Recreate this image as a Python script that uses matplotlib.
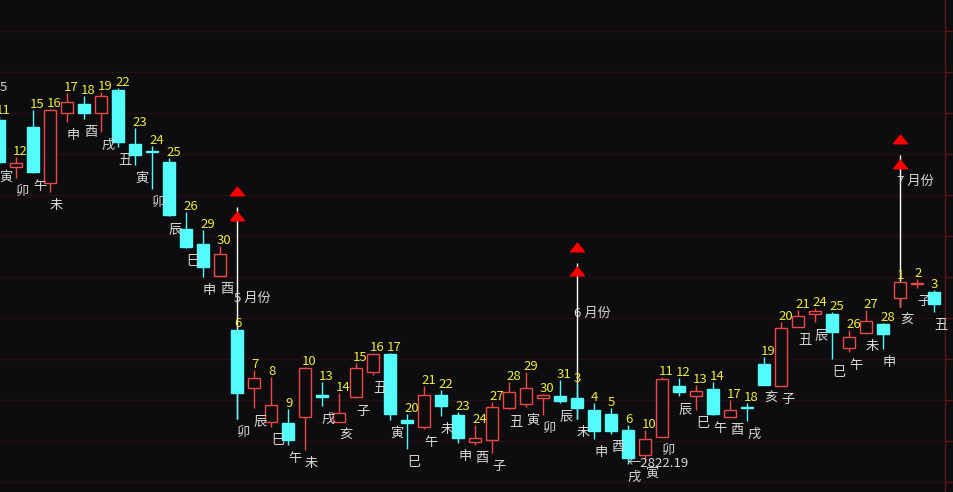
import numpy as np
import matplotlib
matplotlib.use("Agg")
import matplotlib.pyplot as plt
from matplotlib.path import Path

plt.rcParams['font.family'] = ['Noto Sans CJK SC', 'DejaVu Sans']

# day numbers and day branches (Apr 11 2019 .. Jul 3 2019)
days = [11, 12, 15, 16, 17, 18, 19, 22, 23, 24, 25, 26, 29, 30,
        6, 7, 8, 9, 10, 13, 14, 15, 16, 17, 20, 21, 22, 23, 24, 27, 28, 29, 30, 31,
        3, 4, 5, 6, 10, 11, 12, 13, 14, 17, 18, 19, 20, 21, 24, 25, 26, 27, 28,
        1, 2, 3]
branches = ['寅', '卯', '午', '未', '申', '酉', '戌', '丑', '寅', '卯', '辰', '巳', '申', '酉',
            '卯', '辰', '巳', '午', '未', '戌', '亥', '子', '丑', '寅', '巳', '午', '未', '申', '酉',
            '子', '丑', '寅', '卯', '辰',
            '未', '申', '酉', '戌', '寅', '卯', '辰', '巳', '午', '酉', '戌', '亥', '子', '丑',
            '辰', '巳', '午', '未', '申',
            '亥', '子', '丑']

opens = [3241.6, 3184.2, 3233.0, 3164.7, 3250.1, 3261.1, 3250.1, 3278.1, 3212.3, 3203.8,
         3190.3, 3108.6, 3090.3, 3051.3,
         2985.5, 2914.7, 2873.3, 2872.1, 2879.4, 2906.2, 2873.3, 2903.8, 2934.3, 2956.2,
         2875.7, 2867.2, 2906.2, 2881.8, 2848.9, 2851.3, 2890.3, 2895.2, 2902.5, 2905.0,
         2902.5, 2887.9, 2883.0, 2863.5, 2833.0, 2855.0, 2917.2, 2905.0, 2913.5, 2879.4,
         2891.6, 2944.0, 2917.2, 2989.1, 3005.0, 3005.0, 2963.5, 2981.8, 2992.8,
         3024.5, 3041.6, 3031.8]
highs = [3246.4, 3196.4, 3253.8, 3255.0, 3274.5, 3270.8, 3275.7, 3280.6, 3231.8, 3209.9,
         3195.2, 3129.4, 3107.4, 3087.9,
         2986.7, 2936.7, 2928.2, 2889.1, 2940.3, 2922.1, 2908.6, 2945.2, 2957.4, 2957.4,
         2883.0, 2917.2, 2912.3, 2885.5, 2869.6, 2897.7, 2922.1, 2934.3, 2907.4, 2924.5,
         2919.6, 2896.4, 2890.3, 2869.6, 2863.5, 2928.2, 2926.9, 2918.4, 2922.1, 2900.1,
         2896.4, 2952.5, 2995.2, 3009.9, 3012.3, 3007.4, 2985.5, 3009.9, 2994.0,
         3045.2, 3047.7, 3034.2]
lows = [3187.9, 3170.8, 3176.9, 3153.8, 3239.1, 3242.8, 3226.9, 3208.6, 3186.7, 3157.4,
        3124.5, 3085.5, 3050.1, 3051.3,
        2876.9, 2890.3, 2867.2, 2845.2, 2839.1, 2892.8, 2873.3, 2902.5, 2930.6, 2875.7,
        2840.3, 2864.7, 2880.6, 2847.7, 2845.2, 2835.5, 2889.1, 2891.6, 2881.8, 2896.4,
        2876.9, 2852.5, 2858.6, 2822.19, 2826.9, 2855.0, 2905.0, 2887.9, 2881.8, 2879.4,
        2874.5, 2918.4, 2917.2, 2989.1, 2995.2, 2950.1, 2958.6, 2981.8, 2962.3,
        3013.5, 3036.7, 3007.4]
closes = [3190.3, 3189.1, 3178.1, 3253.8, 3263.5, 3250.1, 3270.8, 3214.7, 3198.9, 3202.5,
          3125.7, 3086.7, 3062.3, 3078.3,
          2908.6, 2926.9, 2894.0, 2851.3, 2939.1, 2903.8, 2884.2, 2939.1, 2956.2, 2883.0,
          2872.1, 2906.2, 2892.8, 2853.8, 2853.8, 2891.6, 2909.9, 2914.7, 2906.2, 2898.9,
          2890.3, 2862.3, 2862.3, 2829.4, 2852.5, 2925.7, 2909.9, 2911.1, 2883.0, 2887.9,
          2890.3, 2918.4, 2987.9, 3002.5, 3008.6, 2983.0, 2976.9, 2996.4, 2980.6,
          3044.0, 3042.8, 3017.2]

# month markers: candle index, triangle levels, line top, label level
month_idx = [14, 34, 53]
month_text = ['5 月份', '6 月份', '7 月份']
month_tri_hi = [3155.0, 3086.7, 3218.4]
month_tri_lo = [3124.5, 3057.4, 3187.9]
month_line_top = [3135.5, 3067.2, 3198.9]
month_label_y = [3024.5, 3006.2, 3167.2]

low_idx = 37
low_text = '←2822.19'

grid_levels = np.arange(2800, 3351, 50)

BG = '#0d0d0f'
CYAN = '#54fcfc'
RED = '#f04848'
YELLOW = '#ecec3c'
WHITE = '#d8d8d8'

fig = plt.figure(figsize=(9.54, 4.92), dpi=100, facecolor=BG)
ax = fig.add_axes([0, 0, 1, 1], facecolor=BG)

x = np.arange(len(days))
o = np.array(opens)
h = np.array(highs)
l = np.array(lows)
c = np.array(closes)
up = c >= o

for g in grid_levels:
    ax.axhline(g, color='#221014', lw=1, zorder=0)

# right price-axis border with ticks
xr = 946 / 17
ax.axvline(xr, color='#5c1616', lw=1, zorder=1)
ax.hlines(grid_levels, xr, xr + 0.42, color='#5c1616', lw=1, zorder=1)

# month lines and triangles
tri = Path([(-1, -0.62), (1, -0.62), (0, 0.62), (-1, -0.62)])
for k, mi in enumerate(month_idx):
    ax.vlines(mi, l[mi], month_line_top[k], color='white', lw=1, zorder=2)
    ax.plot([mi, mi], [month_tri_hi[k], month_tri_lo[k]], ls='none', marker=tri,
            ms=10, color='#ff0000', zorder=5)
    ax.annotate(month_text[k], (mi, month_label_y[k]), xytext=(-3, 0),
                textcoords='offset pixels', ha='left', va='center',
                color=WHITE, fontsize=9.5, zorder=6)

# wicks
top = np.maximum(o, c)
bot = np.minimum(o, c)
for i in x:
    col = RED if up[i] else CYAN
    ax.vlines(i, top[i], h[i], color=col, lw=1, zorder=3)
    ax.vlines(i, l[i], bot[i], color=col, lw=1, zorder=3)

# bodies
hgt = np.maximum(top - bot, 0.6)
ax.bar(x[up], hgt[up], bottom=bot[up], width=0.7, facecolor=BG,
       edgecolor=RED, lw=1, zorder=4)
ax.bar(x[~up], hgt[~up], bottom=bot[~up], width=0.7, facecolor=CYAN,
       edgecolor=CYAN, lw=1, zorder=4)

for i in x:
    ax.annotate(str(days[i]), (i, h[i]), xytext=(-3, -1), textcoords='offset pixels',
                ha='left', va='bottom', color=YELLOW, fontsize=9.5, zorder=6,
                annotation_clip=False)
    ax.annotate(branches[i], (i, l[i]), xytext=(0, -7), textcoords='offset pixels',
                ha='left', va='top', color=WHITE, fontsize=9.5, zorder=6,
                annotation_clip=False)

ax.annotate(low_text, (low_idx, l[low_idx]), xytext=(0, 0), textcoords='offset pixels',
            ha='left', va='center', color=WHITE, fontsize=9.5, zorder=7)
ax.text(4 / 17, 3280.6, '5', ha='center', va='center', color=WHITE, fontsize=9.5)

ax.set_xlim(1 / 17, 955 / 17)
ax.set_ylim(3387.9 - 1.2195 * 492, 3387.9)
ax.axis('off')

fig.savefig('out.png', dpi=100, facecolor=BG)
